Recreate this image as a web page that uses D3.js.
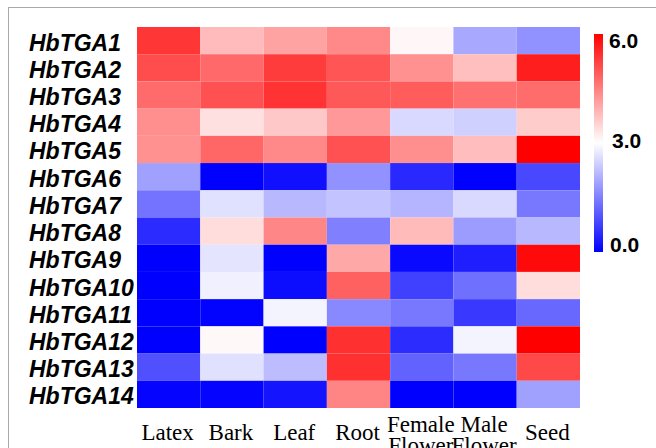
<!DOCTYPE html>
<html>
<head>
<meta charset="utf-8">
<script src="https://cdn.jsdelivr.net/npm/d3@7"></script>
<style>
  body { margin: 0; background: #fff; }
  svg { display: block; }
</style>
</head>
<body>
<div id="chart"></div>
<script>
// Gene names (rows) and tissues (columns)
const genes = ["HbTGA1", "HbTGA2", "HbTGA3", "HbTGA4", "HbTGA5", "HbTGA6", "HbTGA7",
               "HbTGA8", "HbTGA9", "HbTGA10", "HbTGA11", "HbTGA12", "HbTGA13", "HbTGA14"];
const tissues = ["Latex", "Bark", "Leaf", "Root", "Female Flower", "Male Flower", "Seed"];

// Expression values, one array per gene, in tissue order
const HbTGA1  = [5.37, 3.80, 4.10, 4.40, 3.10, 1.98, 1.70];
const HbTGA2  = [5.10, 4.77, 5.30, 5.00, 4.30, 3.75, 5.65];
const HbTGA3  = [4.74, 5.05, 5.40, 4.97, 4.92, 4.68, 4.73];
const HbTGA4  = [4.33, 3.36, 3.65, 4.20, 2.55, 2.45, 3.60];
const HbTGA5  = [4.30, 4.80, 4.40, 5.05, 4.33, 3.78, 6.00];
const HbTGA6  = [1.88, 0.00, 0.19, 1.70, 0.47, 0.00, 0.85];
const HbTGA7  = [1.35, 2.64, 2.17, 2.30, 2.12, 2.55, 1.41];
const HbTGA8  = [0.50, 3.40, 4.42, 1.50, 3.81, 1.84, 2.17];
const HbTGA9  = [0.00, 2.68, 0.00, 4.02, 0.10, 0.35, 5.88];
const HbTGA10 = [0.00, 2.82, 0.14, 4.87, 0.75, 1.32, 3.40];
const HbTGA11 = [0.00, 0.02, 2.87, 1.60, 1.41, 0.66, 1.22];
const HbTGA12 = [0.00, 3.08, 0.00, 5.43, 0.52, 2.87, 6.00];
const HbTGA13 = [0.94, 2.64, 2.21, 5.43, 1.15, 1.41, 5.15];
const HbTGA14 = [0.05, 0.05, 0.24, 4.44, 0.00, 0.00, 1.88];
const values = [HbTGA1, HbTGA2, HbTGA3, HbTGA4, HbTGA5, HbTGA6, HbTGA7,
                HbTGA8, HbTGA9, HbTGA10, HbTGA11, HbTGA12, HbTGA13, HbTGA14];

// Colour bar ticks
const legendTicks = [0, 3, 6];

const width = 656;
const height = 448;

const svg = d3.select("#chart")
    .append("svg")
    .attr("width", width)
    .attr("height", height);

// gray frame (only top and left edges are visible)
svg.append("rect")
    .attr("x", 8.5).attr("y", 7.5)
    .attr("width", 700).attr("height", 500)
    .attr("fill", "none")
    .attr("stroke", "#a8a8a8")
    .attr("stroke-width", 1);

const color = d3.scaleLinear()
    .domain([0, 3, 6])
    .range(["#0000ff", "#ffffff", "#ff0000"]);

const x = d3.scaleBand()
    .domain(tissues)
    .range([137, 580]);

const y = d3.scaleBand()
    .domain(genes)
    .range([27, 408]);

// flatten into cells
const cells = [];
genes.forEach((g, i) => {
    tissues.forEach((t, j) => {
        cells.push({ gene: g, tissue: t, value: values[i][j] });
    });
});

// Heatmap cells
svg.append("g")
    .selectAll("rect")
    .data(cells)
    .enter().append("rect")
    .attr("x", d => x(d.tissue))
    .attr("y", d => y(d.gene))
    .attr("width", x.bandwidth())
    .attr("height", y.bandwidth())
    .attr("fill", d => color(d.value));

// Row labels
svg.append("g")
    .selectAll("text")
    .data(genes)
    .enter().append("text")
    .attr("x", 29)
    .attr("y", d => y(d) + y.bandwidth() / 2 + 10)
    .attr("font-family", "Liberation Sans, Arial, sans-serif")
    .attr("font-weight", "bold")
    .attr("font-style", "italic")
    .attr("font-size", 23)
    .attr("fill", "#000")
    .text(d => d);

// Column labels (two-word names are split into two lines)
const colLabels = svg.append("g")
    .selectAll("text")
    .data(tissues)
    .enter().append("text")
    .attr("text-anchor", "middle")
    .attr("font-family", "Liberation Serif, Times New Roman, serif")
    .attr("font-size", 23)
    .attr("fill", "#000")
    .attr("transform", d => `translate(${x(d) + x.bandwidth() / 2 - 1},0)`);

colLabels.each(function(d) {
    const words = d.split(" ");
    const t = d3.select(this);
    if (words.length === 1) {
        t.append("tspan").attr("x", 0).attr("y", 440).text(d);
    } else {
        t.append("tspan").attr("x", 0).attr("y", 432).text(words[0]);
        t.append("tspan").attr("x", 0).attr("y", 453).text(words[1]);
    }
});

// Colour bar
const defs = svg.append("defs");
const grad = defs.append("linearGradient")
    .attr("id", "cbar")
    .attr("x1", "0%").attr("y1", "100%")
    .attr("x2", "0%").attr("y2", "0%");
legendTicks.forEach(v => {
    grad.append("stop")
        .attr("offset", (v / 6 * 100) + "%")
        .attr("stop-color", color(v));
});

const ly = d3.scaleLinear()
    .domain([0, 6])
    .range([252, 34]);

svg.append("rect")
    .attr("x", 594)
    .attr("y", ly(6))
    .attr("width", 9)
    .attr("height", ly(0) - ly(6))
    .attr("fill", "url(#cbar)");

const tickOffset = { 0: 0, 3: 5, 6: 14 };
const tickX = { 0: 610, 3: 612, 6: 609 };
svg.append("g")
    .selectAll("text")
    .data(legendTicks)
    .enter().append("text")
    .attr("x", d => tickX[d])
    .attr("y", d => ly(d) + tickOffset[d])
    .attr("font-family", "Liberation Sans, Arial, sans-serif")
    .attr("font-weight", "bold")
    .attr("font-size", 21)
    .attr("fill", "#000")
    .text(d => d.toFixed(1));
</script>
</body>
</html>
